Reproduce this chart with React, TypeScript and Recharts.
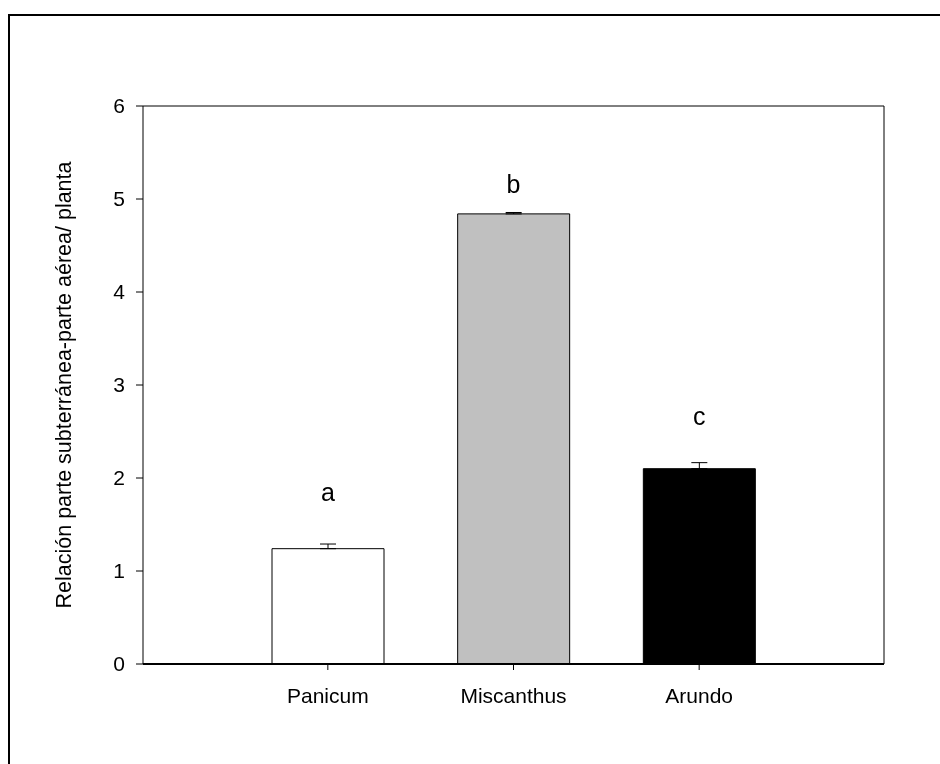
import React from "react";
import {
  BarChart,
  Bar,
  Cell,
  XAxis,
  YAxis,
  ErrorBar,
  ReferenceLine,
  ReferenceDot,
} from "recharts";

const categories = ["Panicum", "Miscanthus", "Arundo"];
const means = [1.24, 4.84, 2.1];
const errors = [0.05, 0.015, 0.065];
const letters = ["a", "b", "c"];
const letterY = [1.85, 5.16, 2.66];
const yTicks = [0, 1, 2, 3, 4, 5, 6];

const FILLS = ["#ffffff", "#c0c0c0", "#000000"];
const FONT = "'Liberation Sans', Arial, sans-serif";

const data = categories.map((name, i) => ({
  name,
  value: means[i],
  err: [0, errors[i]],
}));

export default function App() {
  return (
    <div style={{ position: "relative", width: 924, height: 748, fontFamily: FONT }}>
      {/* outer frame: only its left and top edges fall inside the picture */}
      <div style={{ position: "fixed", left: 8, top: 14, width: 1000, height: 2, background: "#000" }} />
      <div style={{ position: "fixed", left: 8, top: 14, width: 2, height: 1000, background: "#000" }} />
      <div style={{ position: "absolute", left: 0, top: 0 }}>
        <BarChart
          width={924}
          height={748}
          data={data}
          margin={{ top: 98, right: 47, bottom: 62, left: 55 }}
        >
          <XAxis
            dataKey="name"
            padding={{ left: 92, right: 92 }}
            axisLine={{ stroke: "#000", strokeWidth: 2 }}
            tickLine={{ stroke: "#000" }}
            tickSize={6}
            tickMargin={18}
            height={30}
            tick={{ fill: "#000", fontSize: 21, fontFamily: FONT }}
          />
          <YAxis
            domain={[0, 6]}
            ticks={yTicks}
            width={80}
            axisLine={{ stroke: "#000" }}
            tickLine={{ stroke: "#000" }}
            tickSize={7}
            tickMargin={11}
            tick={{ fill: "#000", fontSize: 21, fontFamily: FONT }}
            label={{
              value: "Relación parte subterránea-parte aérea/ planta",
              angle: -90,
              position: "insideLeft",
              offset: 0,
              style: { textAnchor: "middle", fill: "#000", fontSize: 21.5, fontFamily: FONT },
            }}
          />
          <YAxis
            yAxisId="right"
            orientation="right"
            domain={[0, 6]}
            width={1}
            tick={false}
            tickLine={false}
            axisLine={{ stroke: "#000" }}
          />
          <ReferenceLine y={6} stroke="#000" />
          <Bar
            dataKey="value"
            barSize={112}
            stroke="#000"
            strokeWidth={1}
            isAnimationActive={false}
          >
            {data.map((d, i) => (
              <Cell key={d.name} fill={FILLS[i]} />
            ))}
            <ErrorBar dataKey="err" direction="y" width={8} stroke="#000" strokeWidth={1} />
          </Bar>
          {categories.map((c, i) => (
            <ReferenceDot
              key={c}
              x={c}
              y={letterY[i]}
              r={0}
              fill="none"
              stroke="none"
              label={{
                value: letters[i],
                position: "center",
                fill: "#000",
                fontSize: 25,
                fontFamily: FONT,
              }}
            />
          ))}
        </BarChart>
      </div>
    </div>
  );
}
